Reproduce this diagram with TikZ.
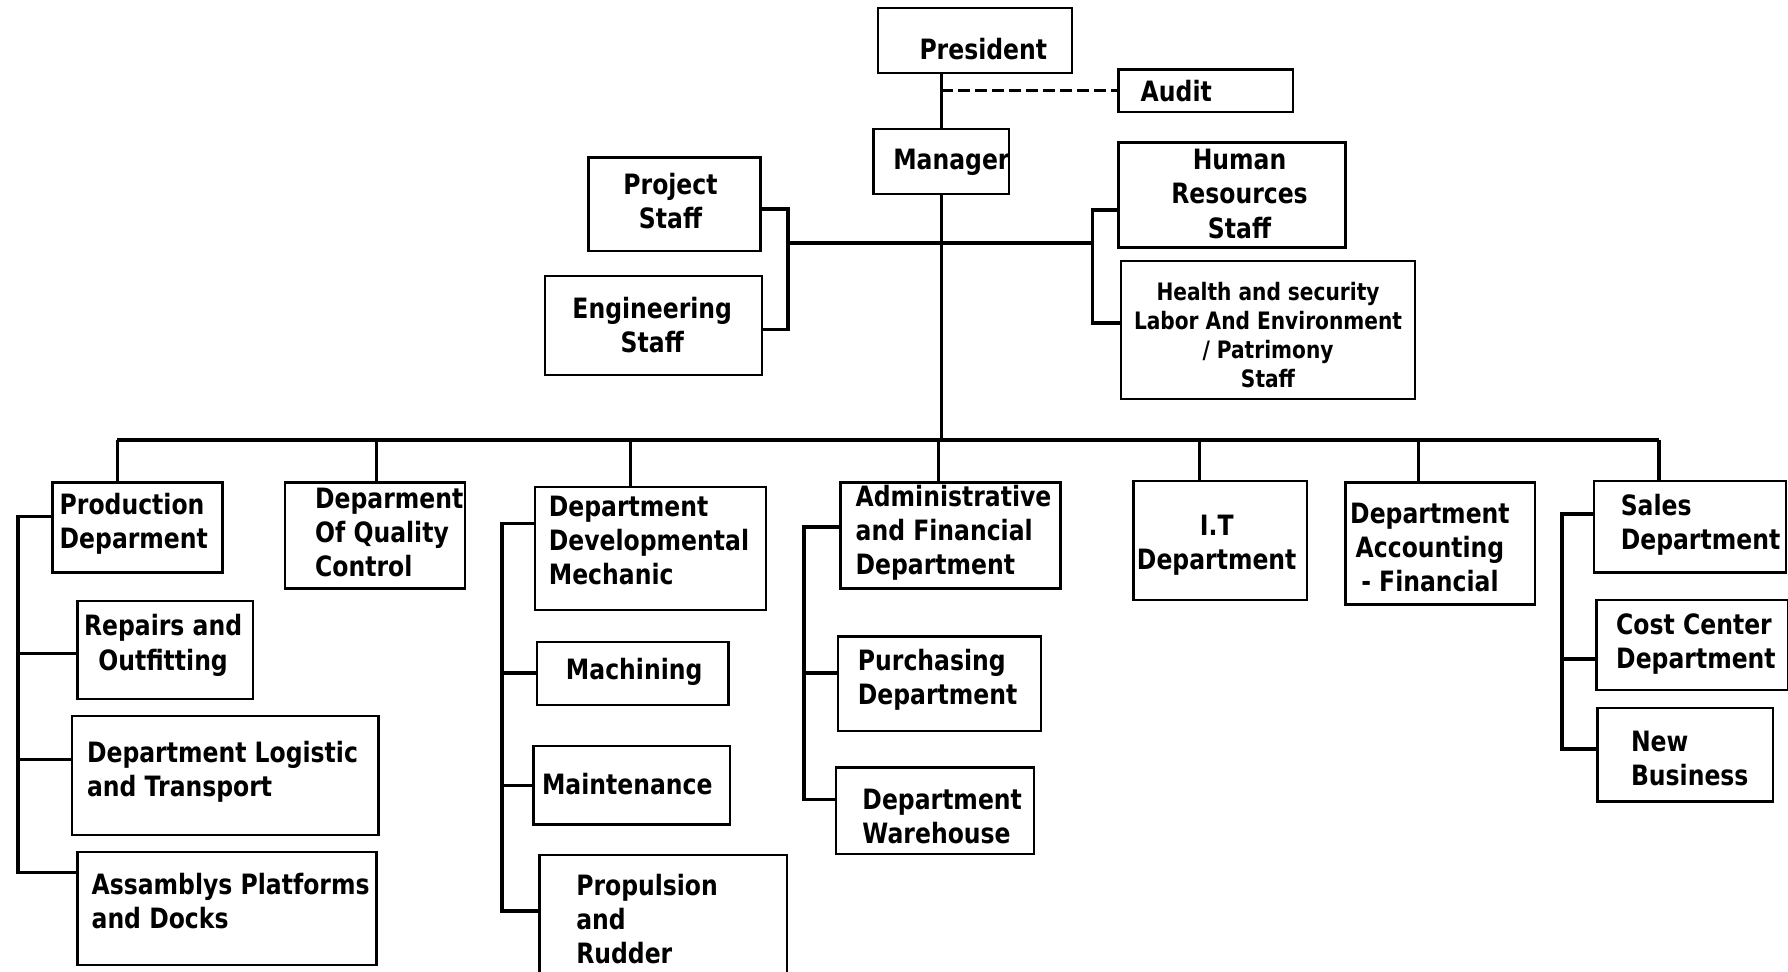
\documentclass[tikz,border=0pt]{standalone}
\usepackage{fontspec}
\newfontfamily\orgfont{DejaVu Sans}[FakeStretch=0.84]
\usetikzlibrary{fit}
\newcommand\orgbox[5]{\node[box,fit={(#2,#3) (#4,#5)}] (#1) {};}
\begin{document}
\begin{tikzpicture}[x=0.5702pt,y=-0.5702pt,
  box/.style={draw,line width=1.2pt,inner sep=0pt},
  conn/.style={line width=1.8pt},
  lbl/.style={inner sep=0pt,align=left,anchor=west,font=\orgfont\bfseries\fontsize{14}{17.1}\selectfont},
  clbl/.style={inner sep=0pt,align=center,anchor=center,font=\orgfont\bfseries\fontsize{14}{17.1}\selectfont},
  slbl/.style={inner sep=0pt,align=center,anchor=center,font=\orgfont\bfseries\fontsize{12}{14.6}\selectfont}]
\useasboundingbox (0,0) rectangle (1568,852);
\fill[white] (0,0) rectangle (1568,852);
% boxes
\orgbox{pres}{770}{7}{940}{64}
\orgbox{audit}{981}{61}{1134}{98}
\orgbox{mgr}{766}{113}{885}{170}
\orgbox{proj}{516}{138}{667}{220}
\orgbox{eng}{478}{242}{668}{329}
\orgbox{hr}{981}{125}{1180}{217}
\orgbox{hs}{983}{229}{1241}{350}
\orgbox{prod}{46}{423}{195}{502}
\orgbox{qual}{250}{423}{408}{516}
\orgbox{dev}{469}{427}{672}{535}
\orgbox{adm}{737}{423}{930}{516}
\orgbox{it}{994}{422}{1146}{526}
\orgbox{acc}{1180}{423}{1346}{530}
\orgbox{sales}{1398}{422}{1566}{502}
\orgbox{cost}{1400}{526}{1568}{605}
\orgbox{nb}{1401}{621}{1555}{703}
\orgbox{rep}{68}{527}{222}{613}
\orgbox{log}{63}{628}{332}{732}
\orgbox{asm}{68}{747}{330}{846}
\orgbox{mach}{471}{563}{639}{618}
\orgbox{maint}{468}{654}{640}{723}
\orgbox{prop}{473}{750}{690}{880}
\orgbox{pur}{735}{558}{913}{641}
\orgbox{wh}{733}{673}{907}{749}
% texts
\node[lbl] (tpres) at (806,43) {President};
\node[lbl] (taudit) at (1000,80) {Audit};
\node[lbl] (tmgr) at (783,142) {Manager};
\node[clbl] (tproj) at (588,176) {Project\\ Staff};
\node[clbl] (teng) at (572,285) {Engineering\\ Staff};
\node[clbl] (thr) at (1087,170) {Human\\ Resources\\ Staff};
\node[slbl] (ths) at (1112,294) {Health and security\\ Labor And Environment\\ / Patrimony\\ Staff};
\node[lbl] (tprod) at (52,459) {Production\\ Deparment};
\node[lbl] (tqual) at (276,467) {Deparment\\ Of Quality\\ Control};
\node[lbl] (tdev) at (481,474) {Department\\ Developmental\\ Mechanic};
\node[lbl] (tadm) at (750,467) {Administrative\\ and Financial\\ Department};
\node[clbl] (tit) at (1067,478) {I.T\\ Department};
\node[clbl] (tacc) at (1254,480) {Department\\ Accounting\\ - Financial};
\node[lbl] (tsales) at (1421,460) {Sales\\ Department};
\node[lbl] (tcost) at (1417,565) {Cost Center\\ Department};
\node[lbl] (tnb) at (1430,665) {New\\ Business};
\node[clbl] (trep) at (143,566) {Repairs and\\ Outfitting};
\node[lbl] (tlog) at (76,677) {Department Logistic\\ and Transport};
\node[lbl] (tasm) at (80,790) {Assamblys Platforms\\ and Docks};
\node[lbl] (tmach) at (496,589) {Machining};
\node[lbl] (tmaint) at (475,688) {Maintenance};
\node[lbl] (tprop) at (505,806) {Propulsion\\ and\\ Rudder};
\node[lbl] (tpur) at (752,596) {Purchasing\\ Department};
\node[lbl] (twh) at (756,716) {Department\\ Warehouse};
% top connectors
\draw[conn] (pres.south -| mgr.north) -- (mgr.north);
\draw[conn,dashed,dash pattern=on 6pt off 2.5pt] (audit.west -| mgr.north) -- (audit.west);
\coordinate (bus) at (825,386);
\draw[conn] (mgr.south) -- (mgr.south |- bus);
% staff brackets
\coordinate (lb) at (691,213);
\coordinate (rb) at (958,213);
\draw[conn] ([yshift=-2.3pt]proj.east) -- ([yshift=-2.3pt]proj.east -| lb) -- ([yshift=-2pt]eng.east -| lb) -- ([yshift=-2pt]eng.east);
\draw[conn] (lb) -- (rb);
\draw[conn] ([yshift=-7.4pt]hr.west) -- ([yshift=-7.4pt]hr.west -| rb) -- ([yshift=3.7pt]hs.west -| rb) -- ([yshift=3.7pt]hs.west);
% bus and drops
\coordinate (b1) at (103,386);
\coordinate (b2) at (330,386);
\coordinate (b3) at (553,386);
\coordinate (b4) at (823,386);
\coordinate (b5) at (1052,386);
\coordinate (b6) at (1244,386);
\coordinate (b7) at (1455,386);
\draw[conn] (b1) -- (b7);
\draw[conn] (b1) -- (b1 |- prod.north);
\draw[conn] (b2) -- (b2 |- qual.north);
\draw[conn] (b3) -- (b3 |- dev.north);
\draw[conn] (b4) -- (b4 |- adm.north);
\draw[conn] (b5) -- (b5 |- it.north);
\draw[conn] (b6) -- (b6 |- acc.north);
\draw[conn] (b7) -- (b7 |- sales.north);
% production subtree
\coordinate (p1) at (16,453);
\coordinate (p2) at (16,573);
\coordinate (p3) at (16,666);
\coordinate (p4) at (16,765);
\draw[conn] (p1 -| prod.west) -- (p1) -- (p4) -- (p4 -| asm.west);
\draw[conn] (p2) -- (p2 -| rep.west);
\draw[conn] (p3) -- (p3 -| log.west);
% developmental subtree
\coordinate (m1) at (440,459);
\coordinate (m2) at (440,590);
\coordinate (m3) at (440,689);
\coordinate (m4) at (440,799);
\draw[conn] (m1 -| dev.west) -- (m1) -- (m4) -- (m4 -| prop.west);
\draw[conn] (m2) -- (m2 -| mach.west);
\draw[conn] (m3) -- (m3 -| maint.west);
% admin subtree
\coordinate (a1) at (705,462);
\coordinate (a2) at (705,590);
\coordinate (a3) at (705,701);
\draw[conn] (a1 -| adm.west) -- (a1) -- (a3) -- (a3 -| wh.west);
\draw[conn] (a2) -- (a2 -| pur.west);
% sales subtree
\coordinate (s1) at (1370,451);
\coordinate (s2) at (1370,578);
\coordinate (s3) at (1370,657);
\draw[conn] (s1 -| sales.west) -- (s1) -- (s3) -- (s3 -| nb.west);
\draw[conn] (s2) -- (s2 -| cost.west);
\end{tikzpicture}
\end{document}
